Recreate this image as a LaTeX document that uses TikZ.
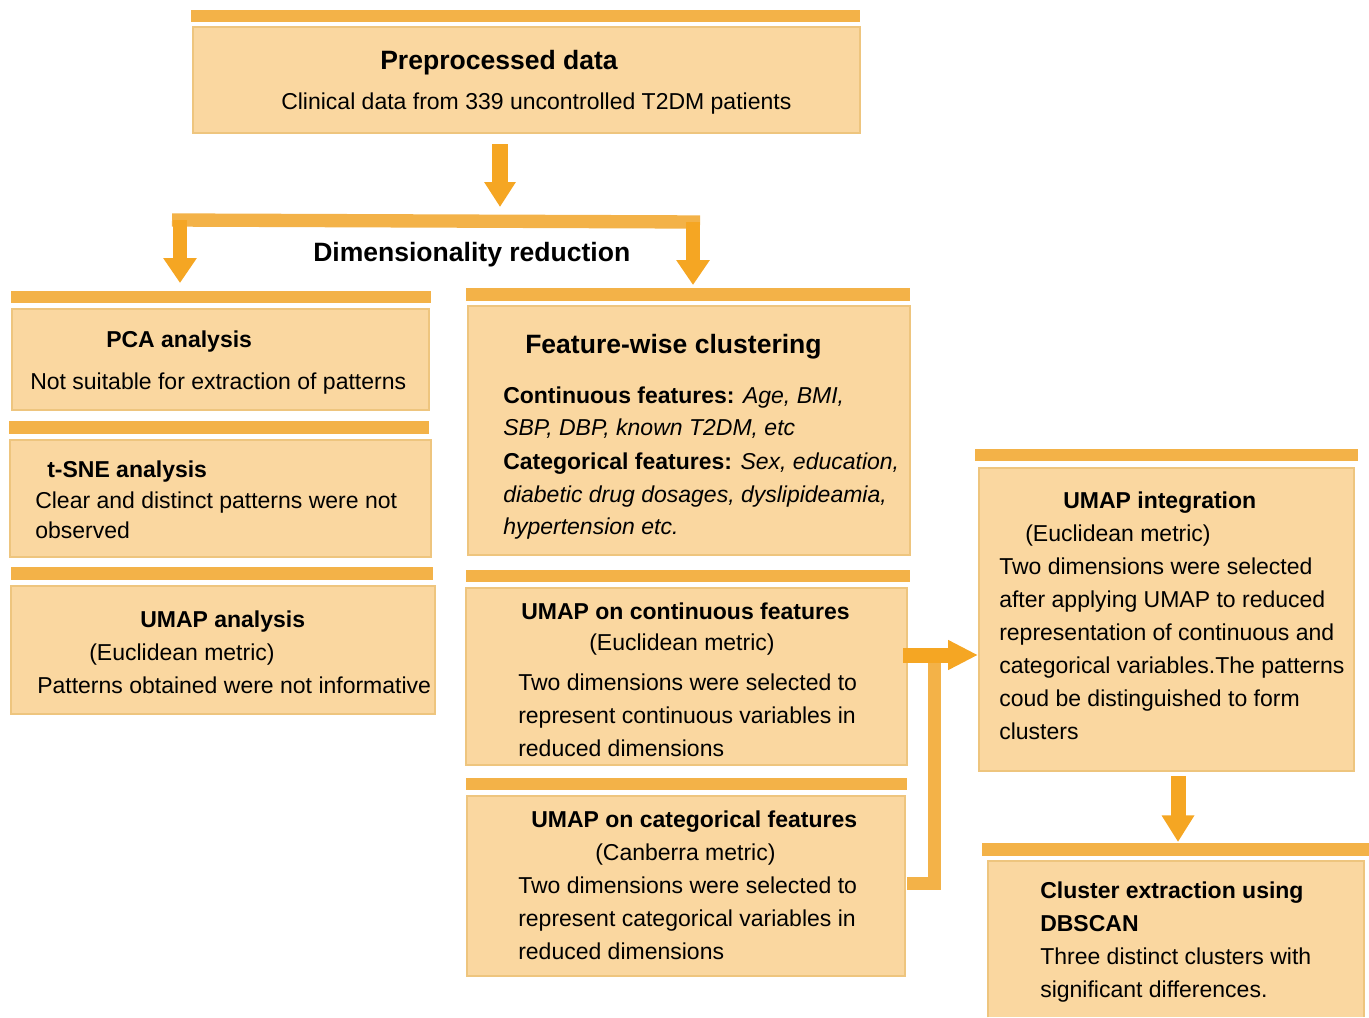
\documentclass[tikz,border=0pt]{standalone}
\usepackage{fontspec}
\setmainfont{Liberation Sans}
\usetikzlibrary{arrows.meta,fit}
\definecolor{boxfill}{HTML}{FAD7A0}
\definecolor{boxline}{HTML}{EEC57E}
\definecolor{barcol}{HTML}{F3B248}
\definecolor{arrcol}{HTML}{F5A623}
\tikzset{
  box/.style={fill=boxfill, draw=boxline, line width=1.5pt, inner sep=0pt, fit={#1}},
  bar/.style={fill=barcol, inner sep=0pt, fit={#1}},
  tx/.style={anchor=base west, inner sep=0pt, font=\fontsize{17.25}{24.75}\selectfont},
  hd/.style={anchor=base west, inner sep=0pt, font=\fontsize{17.25}{24.75}\selectfont\bfseries},
  bighd/.style={anchor=base west, inner sep=0pt, font=\fontsize{19.9}{24}\selectfont\bfseries},
  blockarrow/.style={draw=arrcol, line width=#1},
  barline/.style={draw=barcol, line width=10pt, line join=miter},
}
\begin{document}
\begin{tikzpicture}[x=0.75pt,y=-0.75pt]
\useasboundingbox (0,0) rectangle (1369,1017);

% ---------- bars and boxes ----------
\node[bar={(191,10) (860,22)}] (topbar) {};
\node[box={(193,27) (860,133)}] (top) {};

\node[bar={(11,291) (431,303)}] (pcabar) {};
\node[box={(12,309) (429,410)}] (pca) {};
\node[bar={(9,421) (429,434)}] (tsnebar) {};
\node[box={(10,440) (431,557)}] (tsne) {};
\node[bar={(11,567) (433,580)}] (umapbar) {};
\node[box={(11,586) (435,714)}] (umap) {};

\node[bar={(466,288) (910,301)}] (featbar) {};
\node[box={(468,306) (910,555)}] (feat) {};
\node[bar={(466,570) (910,582)}] (contbar) {};
\node[box={(466,588) (907,765)}] (cont) {};
\node[bar={(466,778) (907,790)}] (catbar) {};
\node[box={(467,796) (905,976)}] (cat) {};

\node[bar={(975,449) (1358,461)}] (intbar) {};
\node[box={(979,468) (1354,771)}] (int) {};
\node[bar={(982,843) (1369,856)}] (clubar) {};
\node[fill=boxfill, inner sep=0pt, fit={(988,861) (1364,1017)}] (clu) {};
\draw[boxline, line width=1.5pt] (clu.south west) -- (clu.north west) -- (clu.north east) -- (clu.south east);

% ---------- connector coordinates ----------
\coordinate (a1s) at (500,144);
\coordinate (a1e) at (500,207);
\coordinate (brl) at (172,220);
\coordinate (brr) at (700,222);
\coordinate (la s) at (180,220);
\coordinate (la e) at (180,283);
\coordinate (ra s) at (693,222);
\coordinate (ra e) at (693,285);
\coordinate (ca s) at (903,655);
\coordinate (ca e) at (978,655);
\coordinate (cv top) at (934,655);
\coordinate (cv bot) at (934,883);
\coordinate (cat out) at (907,883);
\coordinate (ba s) at (1178,776);
\coordinate (ba e) at (1178,842);

% ---------- connectors ----------
\draw[blockarrow=12pt, -{Triangle[width=22.5pt,length=18.75pt]}] (a1s) -- (a1e);
\draw[barline] (brl) -- (brr);
\draw[blockarrow=10pt, -{Triangle[width=24pt,length=18.75pt]}] (la s) -- (la e);
\draw[blockarrow=10pt, -{Triangle[width=24pt,length=18.75pt]}] (ra s) -- (ra e);
\draw[barline, line width=9.75pt] (cat out) -- (cv bot) -- (cv top);
\draw[blockarrow=11.25pt, -{Triangle[width=21pt,length=22.5pt]}] (ca s) -- (ca e);
\draw[blockarrow=11.25pt, -{Triangle[width=23.25pt,length=20pt]}] (ba s) -- (ba e);

% ---------- texts ----------
\node[bighd] (t-top1) at (380,69) {Preprocessed data};
\node[tx] (t-top2) at (281,109) {Clinical data from 339 uncontrolled T2DM patients};
\node[bighd] (t-dr) at (313,261) {Dimensionality reduction};

\node[hd] (t-pca1) at (106,347) {PCA analysis};
\node[tx] (t-pca2) at (30,389) {Not suitable for extraction of patterns};

\node[hd] (t-tsne1) at (47,477) {t-SNE analysis};
\node[tx] (t-tsne2) at (35,508) {Clear and distinct patterns were not};
\node[tx] (t-tsne3) at (35,538) {observed};

\node[hd] (t-umap1) at (140,627) {UMAP analysis};
\node[tx] (t-umap2) at (89,660) {(Euclidean metric)};
\node[tx] (t-umap3) at (37,693) {Patterns obtained were not informative};

\node[bighd] (t-feat1) at (525,353) {Feature-wise clustering};
\node[tx] (t-feat2) at (503,403) {\textbf{Continuous features:} \textit{Age, BMI,}};
\node[tx] (t-feat3) at (503,435) {\textit{SBP, DBP, known T2DM, etc}};
\node[tx] (t-feat4) at (503,469) {\textbf{Categorical features:} \textit{Sex, education,}};
\node[tx] (t-feat5) at (503,502) {\textit{diabetic drug dosages, dyslipideamia,}};
\node[tx] (t-feat6) at (503,534) {\textit{hypertension etc.}};

\node[hd] (t-cont1) at (521,619) {UMAP on continuous features};
\node[tx] (t-cont2) at (589,650) {(Euclidean metric)};
\node[tx] (t-cont3) at (518,690) {Two dimensions were selected to};
\node[tx] (t-cont4) at (518,723) {represent continuous variables in};
\node[tx] (t-cont5) at (518,756) {reduced dimensions};

\node[hd] (t-cat1) at (531,827) {UMAP on categorical features};
\node[tx] (t-cat2) at (595,860) {(Canberra metric)};
\node[tx] (t-cat3) at (518,893) {Two dimensions were selected to};
\node[tx] (t-cat4) at (518,926) {represent categorical variables in};
\node[tx] (t-cat5) at (518,959) {reduced dimensions};

\node[hd] (t-int1) at (1063,508) {UMAP integration};
\node[tx] (t-int2) at (1025,541) {(Euclidean metric)};
\node[tx] (t-int3) at (999,574) {Two dimensions were selected};
\node[tx] (t-int4) at (999,607) {after applying UMAP to reduced};
\node[tx] (t-int5) at (999,640) {representation of continuous and};
\node[tx] (t-int6) at (999,673) {categorical variables.The patterns};
\node[tx] (t-int7) at (999,706) {coud be distinguished to form};
\node[tx] (t-int8) at (999,739) {clusters};

\node[hd] (t-clu1) at (1040,898) {Cluster extraction using};
\node[hd] (t-clu2) at (1040,931) {DBSCAN};
\node[tx] (t-clu3) at (1040,964) {Three distinct clusters with};
\node[tx] (t-clu4) at (1040,997) {significant differences.};
\end{tikzpicture}
\end{document}
